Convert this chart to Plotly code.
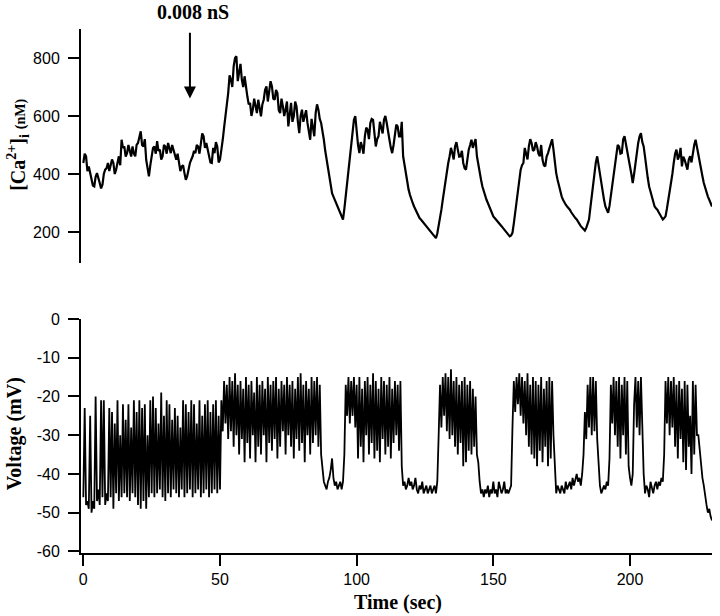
import plotly.graph_objects as go

# ---------------- data ----------------
# [Ca2+]i (nM), read every 1 s (t = 0 ... 230 s)
ca_values = [
    438, 461, 426, 386, 357, 403, 369, 363, 415, 438,
    426, 438, 415, 461, 518, 495, 472, 484, 495, 461,
    507, 547, 495, 449, 392, 461, 495, 513, 484, 461,
    495, 507, 472, 484, 449, 438, 426, 403, 392, 438,
    461, 472, 495, 518, 530, 507, 461, 438, 472, 495,
    449, 518, 599, 679, 725, 771, 806, 748, 725, 737,
    668, 645, 622, 633, 656, 599, 656, 702, 679, 702,
    656, 679, 610, 633, 622, 564, 645, 599, 633, 541,
    622, 599, 576, 518, 564, 610, 622, 576, 518, 449,
    380, 334, 311, 288, 266, 243, 323, 426, 518, 587,
    541, 472, 495, 530, 553, 576, 587, 495, 530, 564,
    587, 576, 518, 472, 541, 564, 530, 461, 403, 346,
    311, 288, 266, 248, 237, 225, 214, 202, 191, 179,
    220, 277, 346, 415, 461, 472, 495, 484, 461, 438,
    415, 484, 518, 507, 461, 403, 357, 323, 300, 277,
    254, 243, 231, 220, 208, 197, 185, 197, 266, 346,
    415, 438, 472, 495, 507, 484, 495, 461, 449, 426,
    472, 507, 484, 403, 357, 323, 300, 288, 277, 260,
    248, 237, 220, 208, 214, 243, 323, 415, 461, 392,
    334, 288, 266, 323, 403, 472, 495, 472, 530, 472,
    426, 369, 438, 507, 541, 495, 415, 357, 323, 288,
    277, 260, 243, 254, 311, 357, 438, 484, 461, 426,
    449, 415, 461, 472, 518, 472, 415, 369, 334, 311,
    288,
]
# [Ca2+]i (nM), read at the half seconds in between (t = 0.5 ... 229.5 s)
ca_half_values = [
    470, 410, 400, 360, 390, 380, 350, 400, 420, 410,
    450, 400, 440, 430, 490, 460, 500, 460, 470, 500,
    530, 500, 520, 420, 430, 490, 470, 480, 450, 500,
    470, 490, 500, 460, 470, 410, 430, 380, 420, 450,
    480, 500, 470, 540, 490, 480, 440, 490, 510, 440,
    480, 560, 640, 740, 700, 800, 720, 780, 700, 690,
    640, 600, 660, 610, 630, 640, 690, 650, 720, 660,
    690, 620, 660, 600, 650, 610, 580, 650, 580, 600,
    580, 620, 550, 590, 530, 640, 590, 550, 480, 420,
    355, 322, 300, 277, 255, 280, 375, 472, 553, 600,
    500, 510, 470, 560, 520, 590, 540, 520, 580, 540,
    600, 540, 490, 500, 570, 530, 580, 430, 375, 328,
    300, 277, 257, 243, 231, 220, 208, 197, 185, 195,
    248, 311, 380, 438, 490, 450, 510, 460, 480, 420,
    460, 500, 490, 520, 430, 380, 340, 311, 288, 265,
    248, 237, 225, 214, 202, 191, 188, 230, 306, 380,
    430, 490, 450, 520, 480, 510, 470, 500, 430, 460,
    490, 520, 440, 380, 340, 311, 294, 283, 268, 254,
    243, 228, 214, 205, 228, 283, 369, 440, 430, 360,
    311, 277, 290, 360, 440, 500, 470, 520, 500, 450,
    400, 400, 470, 530, 510, 460, 386, 340, 305, 282,
    268, 251, 248, 280, 334, 400, 470, 450, 490, 460,
    430, 450, 440, 500, 490, 440, 392, 350, 322, 300,
]

# Membrane voltage (mV), read every 0.5 s (each row = 5 s)
volt_values = [
    -46, -23, -48, -47, -49, -25, -50, -47, -49, -20,
    -47, -44, -48, -21, -46, -21, -48, -45, -47, -23,
    -46, -24, -49, -27, -45, -21, -47, -30, -46, -22,
    -45, -26, -46, -22, -47, -28, -45, -21, -46, -24,
    -48, -21, -49, -23, -47, -22, -49, -30, -46, -21,
    -45, -20, -46, -23, -45, -27, -44, -19, -46, -25,
    -47, -21, -45, -22, -46, -26, -44, -23, -45, -25,
    -46, -28, -44, -21, -46, -22, -45, -24, -44, -21,
    -46, -22, -45, -27, -44, -21, -46, -25, -45, -22,
    -44, -21, -46, -24, -45, -22, -44, -21, -45, -25,
    -44, -21, -29, -16, -27, -17, -31, -15, -29, -16,
    -33, -14, -30, -17, -35, -16, -31, -18, -37, -15,
    -32, -17, -36, -16, -30, -19, -37, -15, -33, -17,
    -35, -16, -30, -18, -37, -15, -32, -17, -34, -16,
    -31, -15, -36, -18, -33, -16, -29, -17, -35, -15,
    -30, -17, -33, -16, -36, -18, -31, -15, -34, -14,
    -32, -17, -37, -16, -30, -18, -35, -15, -32, -16,
    -30, -15, -33, -17, -35, -38, -42, -43, -44, -42,
    -41, -39, -36, -41, -43, -42, -44, -43, -42, -44,
    -42, -35, -17, -25, -15, -27, -16, -25, -15, -28,
    -17, -36, -15, -33, -18, -37, -16, -30, -15, -35,
    -17, -32, -14, -36, -16, -34, -18, -37, -15, -31,
    -16, -35, -17, -33, -15, -36, -18, -32, -16, -30,
    -17, -34, -16, -38, -43, -42, -44, -43, -41, -43,
    -42, -44, -43, -41, -44, -45, -43, -44, -42, -45,
    -44, -43, -45, -44, -43, -45, -44, -43, -45, -42,
    -30, -17, -28, -15, -25, -14, -29, -15, -31, -13,
    -30, -16, -33, -15, -35, -17, -32, -16, -38, -15,
    -37, -17, -34, -16, -35, -18, -33, -20, -35, -37,
    -42, -45, -44, -46, -44, -45, -43, -46, -44, -45,
    -42, -45, -44, -46, -42, -44, -45, -44, -42, -45,
    -44, -45, -44, -43, -28, -16, -24, -15, -22, -14,
    -25, -15, -27, -16, -30, -14, -33, -17, -35, -15,
    -36, -16, -38, -17, -34, -15, -37, -18, -33, -16,
    -38, -15, -36, -16, -30, -40, -45, -43, -44, -45,
    -43, -44, -45, -42, -44, -43, -42, -44, -41, -43,
    -41, -40, -42, -41, -43, -40, -35, -24, -31, -17,
    -28, -15, -30, -15, -29, -16, -31, -38, -43, -45,
    -44, -43, -44, -42, -43, -36, -17, -27, -15, -30,
    -16, -33, -15, -36, -17, -30, -15, -35, -16, -38,
    -41, -43, -40, -22, -15, -28, -16, -30, -15, -32,
    -40, -45, -43, -44, -46, -42, -44, -45, -43, -42,
    -44, -42, -43, -41, -42, -35, -16, -27, -15, -30,
    -16, -28, -15, -33, -17, -36, -16, -31, -18, -37,
    -16, -39, -17, -33, -25, -40, -16, -35, -17, -30,
    -30, -34, -38, -41, -43, -46, -48, -50, -49, -51,
    -52,
]
volt_step = 0.5

x_ticks = [0, 50, 100, 150, 200]
ca_ticks = [200, 400, 600, 800]
volt_ticks = [0, -10, -20, -30, -40, -50, -60]
volt_tick_text = ["0", "-10", "-20", "-30", "-40", "-50", "-60"]

stim_time = 39          # arrow position (s)
stim_label = "0.008 nS"

# merge whole-second and half-second calcium readings in time order
ca_time, ca_trace = [], []
for i, v in enumerate(ca_values):
    ca_time.append(float(i))
    ca_trace.append(v)
    if i < len(ca_half_values):
        ca_time.append(i + 0.5)
        ca_trace.append(ca_half_values[i])

volt_time = [i * volt_step for i in range(len(volt_values))]

# ---------------- figure ----------------
SANS = "Liberation Sans, Arial, sans-serif"
SERIF = "Liberation Serif, Times New Roman, serif"

fig = go.Figure()
fig.add_trace(go.Scatter(x=ca_time, y=ca_trace, mode="lines",
                         line=dict(color="black", width=2.2),
                         xaxis="x", yaxis="y", showlegend=False))
fig.add_trace(go.Scatter(x=volt_time, y=volt_values, mode="lines",
                         line=dict(color="black", width=1.8),
                         xaxis="x2", yaxis="y2", showlegend=False))

axis_common = dict(showgrid=False, zeroline=False, showline=True,
                   linecolor="black", linewidth=2, ticks="outside",
                   ticklen=11, tickwidth=2, tickcolor="black",
                   tickfont=dict(family=SANS, size=16, color="black"))

xr = [-0.85, 230]
fig.update_layout(
    width=720, height=616,
    margin=dict(l=81, r=8, t=29, b=63),
    paper_bgcolor="white", plot_bgcolor="white",
    xaxis=dict(domain=[0, 1], range=xr, visible=False, anchor="y"),
    yaxis=dict(domain=[0.5534, 1], range=[93, 900], tickvals=ca_ticks,
               anchor="x", ticklabelstandoff=5, **axis_common),
    xaxis2=dict(domain=[0, 1], range=xr, tickvals=x_ticks, anchor="y2",
                **axis_common),
    yaxis2=dict(domain=[0, 0.4466], range=[-60.4, 0], tickvals=volt_ticks,
                ticktext=volt_tick_text, anchor="x2", ticklabelstandoff=5,
                **axis_common),
)

# arrow
fig.add_annotation(x=stim_time, y=660, ax=stim_time, ay=892,
                   xref="x", yref="y", axref="x", ayref="y",
                   showarrow=True, arrowhead=2, arrowsize=1.2,
                   arrowwidth=2, arrowcolor="black", text="")
fig.add_annotation(x=40.2, y=1.033, xref="x", yref="paper",
                   text="<b>" + stim_label + "</b>", showarrow=False,
                   xanchor="center", yanchor="middle",
                   font=dict(family=SERIF, size=20, color="black"))

# axis titles
fig.add_annotation(x=-0.099, y=0.778, xref="paper", yref="paper",
                   text="<b>[Ca<sup>2+</sup>]<sub>i</sub> <span style='font-size:14px'>(nM)</span></b>",
                   textangle=-90, showarrow=False, xanchor="center", yanchor="middle",
                   font=dict(family=SERIF, size=20, color="black"))
fig.add_annotation(x=-0.105, y=0.228, xref="paper", yref="paper",
                   text="<b>Voltage (mV)</b>", textangle=-90, showarrow=False,
                   xanchor="center", yanchor="middle",
                   font=dict(family=SERIF, size=20, color="black"))
fig.add_annotation(x=0.502, y=-0.095, xref="paper", yref="paper",
                   text="<b>Time (sec)</b>", showarrow=False,
                   xanchor="center", yanchor="middle",
                   font=dict(family=SERIF, size=20, color="black"))

fig.write_html("out.html",
               config={"displayModeBar": False},
               post_script="document.body.style.margin='0px';document.body.style.overflow='hidden';")
